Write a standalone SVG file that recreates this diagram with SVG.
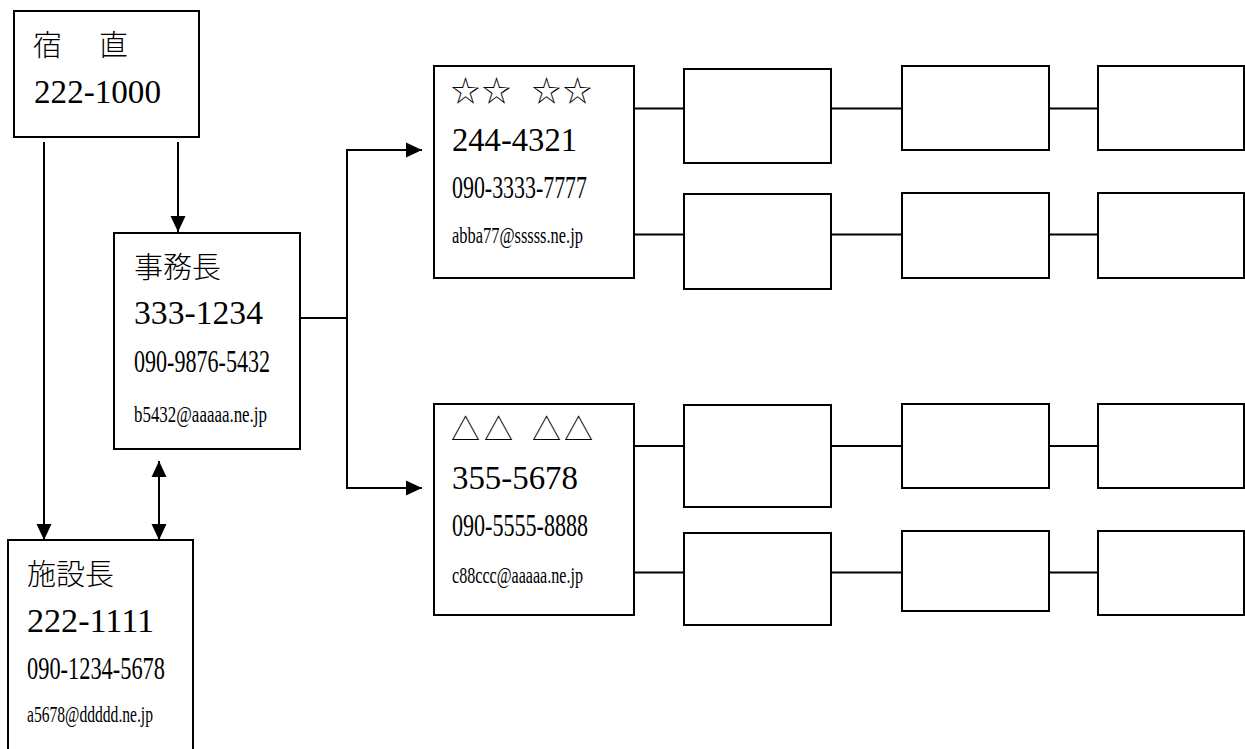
<svg xmlns="http://www.w3.org/2000/svg" width="1245" height="749" viewBox="0 0 1245 749">
<style>
.box{fill:#fff;stroke:#000;stroke-width:2}
.ln{fill:none;stroke:#000;stroke-width:2}
.jp{font-family:"Noto Sans CJK JP","Noto Sans CJK SC",sans-serif;font-weight:300;font-size:29px;fill:#000}
.sym{font-family:"Noto Sans CJK JP",sans-serif;font-weight:300;font-size:29px;fill:#000}
.num{font-family:"Liberation Serif",serif;fill:#000}
.big{font-size:33px}
.mid{font-size:31px}
.sm{font-size:23px}
</style>
<defs>
<marker id="ah" viewBox="0 0 16 16" refX="16" refY="8" markerWidth="16" markerHeight="16" markerUnits="userSpaceOnUse" orient="auto-start-reverse">
<path d="M0,0.5 L16,8 L0,15.5 z" fill="#000"/>
</marker>
</defs>
<rect width="1245" height="749" fill="#fff"/>
<g id="connectors">
<path class="ln" d="M44,142 V540" marker-end="url(#ah)"/>
<path class="ln" d="M178,142 V232" marker-end="url(#ah)"/>
<path class="ln" d="M159,461 V540" marker-start="url(#ah)" marker-end="url(#ah)"/>
<path class="ln" d="M300,318 H347"/>
<path class="ln" d="M347,150 V488"/>
<path class="ln" d="M346,150 H422" marker-end="url(#ah)"/>
<path class="ln" d="M346,488 H422" marker-end="url(#ah)"/>
<path class="ln" d="M634,108.5 H684 M831,108.5 H902 M1049,108.5 H1098"/>
<path class="ln" d="M634,234.5 H684 M831,234.5 H902 M1049,234.5 H1098"/>
<path class="ln" d="M634,446 H684 M831,446 H902 M1049,446 H1098"/>
<path class="ln" d="M634,572.5 H684 M831,572.5 H902 M1049,572.5 H1098"/>
</g>
<g id="shukuchoku">
<rect class="box" x="14" y="11" width="185" height="126"/>
<text class="jp" x="33" y="56">宿</text>
<text class="jp" x="99" y="56">直</text>
<text class="num big" x="34" y="103" textLength="127" lengthAdjust="spacingAndGlyphs">222-1000</text>
</g>
<g id="jimucho">
<rect class="box" x="114" y="233" width="186" height="216"/>
<text class="jp" x="134" y="278">事務長</text>
<text class="num big" x="134" y="324" textLength="129" lengthAdjust="spacingAndGlyphs">333-1234</text>
<text class="num mid" x="134" y="371.5" textLength="136" lengthAdjust="spacingAndGlyphs">090-9876-5432</text>
<text class="num sm" x="134" y="421.5" textLength="133" lengthAdjust="spacingAndGlyphs">b5432@aaaaa.ne.jp</text>
</g>
<g id="shisetsucho">
<rect class="box" x="8" y="540" width="185" height="230"/>
<text class="jp" x="27" y="585">施設長</text>
<text class="num big" x="27" y="632" textLength="127" lengthAdjust="spacingAndGlyphs">222-1111</text>
<text class="num mid" x="27" y="679" textLength="138" lengthAdjust="spacingAndGlyphs">090-1234-5678</text>
<text class="num sm" x="27" y="721.5" textLength="126" lengthAdjust="spacingAndGlyphs">a5678@ddddd.ne.jp</text>
</g>
<g id="star">
<rect class="box" x="434" y="66" width="200" height="212"/>
<text class="sym" x="451 482 510 532 563" y="102">☆☆ ☆☆</text>
<text class="num big" x="452" y="150.5" textLength="125" lengthAdjust="spacingAndGlyphs">244-4321</text>
<text class="num mid" x="452" y="198" textLength="135" lengthAdjust="spacingAndGlyphs">090-3333-7777</text>
<text class="num sm" x="452" y="242.5" textLength="131" lengthAdjust="spacingAndGlyphs">abba77@sssss.ne.jp</text>
</g>
<g id="triangle">
<rect class="box" x="434" y="404" width="200" height="211"/>
<text class="sym" x="451 484 512 532 564" y="440">△△ △△</text>
<text class="num big" x="452" y="489" textLength="126" lengthAdjust="spacingAndGlyphs">355-5678</text>
<text class="num mid" x="452" y="535.5" textLength="136" lengthAdjust="spacingAndGlyphs">090-5555-8888</text>
<text class="num sm" x="452" y="582.5" textLength="131" lengthAdjust="spacingAndGlyphs">c88ccc@aaaaa.ne.jp</text>
</g>
<g id="r1c2"><rect class="box" x="684" y="69" width="147" height="94"/></g>
<g id="r1c3"><rect class="box" x="902" y="66" width="147" height="84"/></g>
<g id="r1c4"><rect class="box" x="1098" y="66" width="146" height="84"/></g>
<g id="r2c2"><rect class="box" x="684" y="194" width="147" height="95"/></g>
<g id="r2c3"><rect class="box" x="902" y="193" width="147" height="85"/></g>
<g id="r2c4"><rect class="box" x="1098" y="193" width="146" height="85"/></g>
<g id="r3c2"><rect class="box" x="684" y="405" width="147" height="102"/></g>
<g id="r3c3"><rect class="box" x="902" y="404" width="147" height="84"/></g>
<g id="r3c4"><rect class="box" x="1098" y="404" width="146" height="84"/></g>
<g id="r4c2"><rect class="box" x="684" y="533" width="147" height="92"/></g>
<g id="r4c3"><rect class="box" x="902" y="531" width="147" height="80"/></g>
<g id="r4c4"><rect class="box" x="1098" y="531" width="146" height="84"/></g>
</svg>
